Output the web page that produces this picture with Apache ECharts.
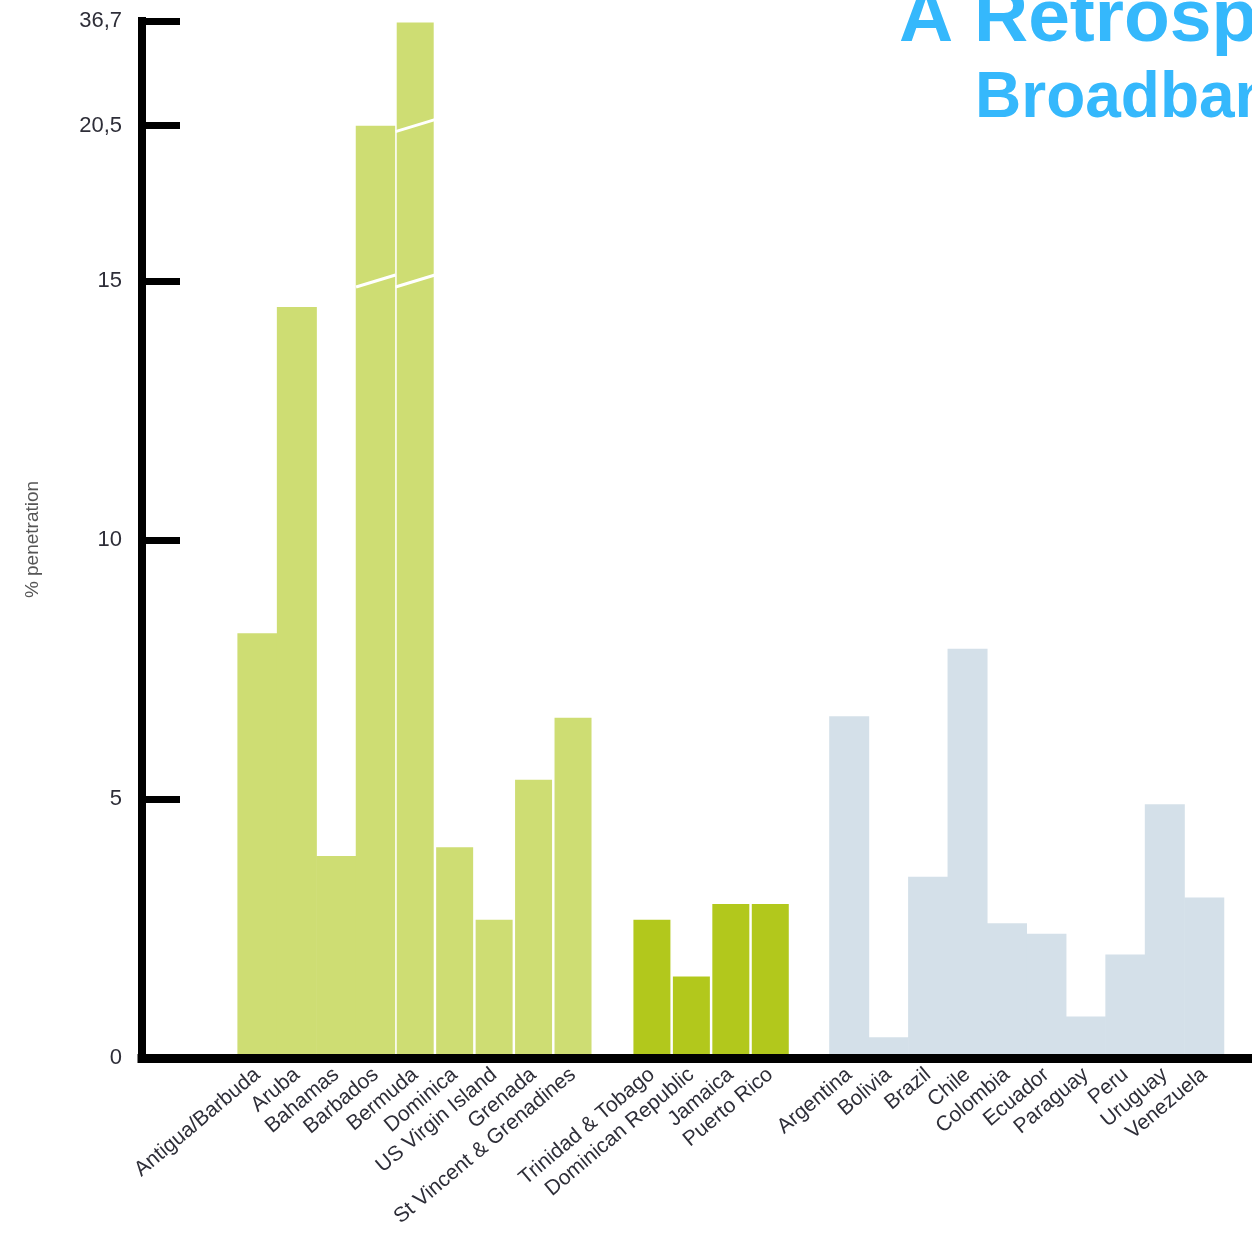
<!DOCTYPE html>
<html>
<head>
<meta charset="utf-8">
<script src="https://cdn.jsdelivr.net/npm/echarts@6/dist/echarts.min.js"></script>
<style>
  html, body { margin: 0; padding: 0; background: #fff; }
  #chart { width: 1252px; height: 1235px; }
</style>
</head>
<body>
<div id="chart"></div>
<script>
// Caribbean (light green), Caribbean (dark green), Latin America (grey-blue)
var caribbeanNames = ['Antigua/Barbuda', 'Aruba', 'Bahamas', 'Barbados', 'Bermuda', 'Dominica', 'US Virgin Island', 'Grenada', 'St Vincent & Grenadines'];
var caribbeanValues = [8.2, 14.5, 3.9, 20.5, 36.7, 4.1, 2.7, 5.4, 6.6];
var caribbean2Names = ['Trinidad & Tobago', 'Dominican Republic', 'Jamaica', 'Puerto Rico'];
var caribbean2Values = [2.7, 1.6, 3.0, 3.0];
var latamNames = ['Argentina', 'Bolivia', 'Brazil', 'Chile', 'Colombia', 'Ecuador', 'Paraguay', 'Peru', 'Uruguay', 'Venezuela'];
var latamValues = [6.6, 0.4, 3.5, 7.9, 2.6, 2.4, 0.8, 2.0, 4.9, 3.1];
// broken y scale
var tickValues = [0, 5, 10, 15, 20.5, 36.7];
var tickLabels = ['0', '5', '10', '15', '20,5', '36,7'];
var breakValues = [15, 20.5];

// piecewise scale: linear up to 15, then compressed
function toAxis(v) {
  if (v <= 15) return v;
  if (v <= 20.5) return 15 + (v - 15) * (3.0 / 5.5);
  return 18 + (v - 20.5) * (2.02 / 16.2);
}

var slot = 0;
var allNames = {};
function buildGroup(names, values, sepFrom) {
  var out = [];
  names.forEach(function (n, i) {
    var pos = slot + i;
    allNames[pos] = n;
    var item = { value: [pos, toAxis(values[i])], real: values[i] };
    if (i >= sepFrom) {
      item.itemStyle = { borderColor: '#fff', borderWidth: 1.5 };
    }
    out.push(item);
  });
  slot += names.length + 1;
  return out;
}
var dataA = buildGroup(caribbeanNames, caribbeanValues, 4);
var dataB = buildGroup(caribbean2Names, caribbean2Values, 0);
var dataC = buildGroup(latamNames, latamValues, 99);

// break marks on bars going beyond 15 / 20.5
var breakMarks = [];
[dataA, dataB, dataC].forEach(function (d) {
  d.forEach(function (it) {
    breakValues.forEach(function (b) {
      if (it.real > b) breakMarks.push([it.value[0], toAxis(b)]);
    });
  });
});
var labelPositions = Object.keys(allNames).map(Number);

var myChart = echarts.init(document.getElementById('chart'));
myChart.setOption({
  animation: false,
  title: [{
    text: 'A Retrospective',
    left: 894, top: -22,
    textStyle: { fontFamily: 'Liberation Sans', fontSize: 75, fontWeight: 'bold', color: '#35b8fc' }
  }, {
    text: 'Broadband Penetration',
    left: 970, top: 62,
    textStyle: { fontFamily: 'Liberation Sans', fontSize: 64, fontWeight: 'bold', color: '#35b8fc' }
  }],
  grid: { left: 142, right: 0, top: 21, bottom: 177, outerBoundsMode: 'none' },
  xAxis: {
    type: 'value',
    min: -2.925,
    max: 25.21,
    z: 5,
    splitLine: { show: false },
    axisTick: { show: false },
    axisLine: { onZero: false, lineStyle: { color: '#000', width: 9, cap: 'square' } },
    axisLabel: {
      customValues: labelPositions,
      rotate: 40,
      margin: 14,
      fontFamily: 'Liberation Sans',
      fontSize: 21,
      color: '#2e2e38',
      formatter: function (v) { return allNames[Math.round(v)] || ''; }
    }
  },
  yAxis: {
    type: 'value',
    min: 0,
    max: toAxis(36.7),
    z: 5,
    name: '% penetration',
    nameLocation: 'middle',
    nameRotate: 90,
    nameGap: 100,
    nameTextStyle: { fontFamily: 'Liberation Sans', fontSize: 19, color: '#555' },
    splitLine: { show: false },
    axisLine: { show: true, onZero: false, lineStyle: { color: '#000', width: 8, cap: 'square' } },
    axisTick: {
      show: true,
      inside: true,
      length: 38,
      customValues: tickValues.map(toAxis),
      lineStyle: { color: '#000', width: 7 }
    },
    axisLabel: {
      customValues: tickValues.map(toAxis),
      margin: 20,
      fontFamily: 'Liberation Sans',
      fontSize: 22,
      color: '#2e2e38',
      formatter: function (v) {
        for (var i = 0; i < tickValues.length; i++) {
          if (Math.abs(toAxis(tickValues[i]) - v) < 1e-6) return tickLabels[i];
        }
        return '';
      }
    }
  },
  series: [{
    name: 'Caribbean',
    type: 'bar',
    barWidth: 40,
    barGap: '-100%',
    data: dataA,
    itemStyle: { color: '#cedd73' }
  }, {
    name: 'Caribbean 2',
    type: 'bar',
    barWidth: 40,
    barGap: '-100%',
    data: dataB,
    itemStyle: { color: '#b2c81c' }
  }, {
    name: 'Latin America',
    type: 'bar',
    barWidth: 40,
    barGap: '-100%',
    data: dataC,
    itemStyle: { color: '#d4e0e9' }
  }, {
    name: 'breaks',
    type: 'custom',
    z: 4,
    data: breakMarks,
    renderItem: function (params, api) {
      var c = api.coord([api.value(0), api.value(1)]);
      var w = api.size([1, 0])[0];
      return {
        type: 'line',
        shape: { x1: c[0] - w / 2, y1: c[1] + 6, x2: c[0] + w / 2, y2: c[1] - 6 },
        style: { stroke: '#fff', lineWidth: 3 }
      };
    }
  }]
});
</script>
</body>
</html>
